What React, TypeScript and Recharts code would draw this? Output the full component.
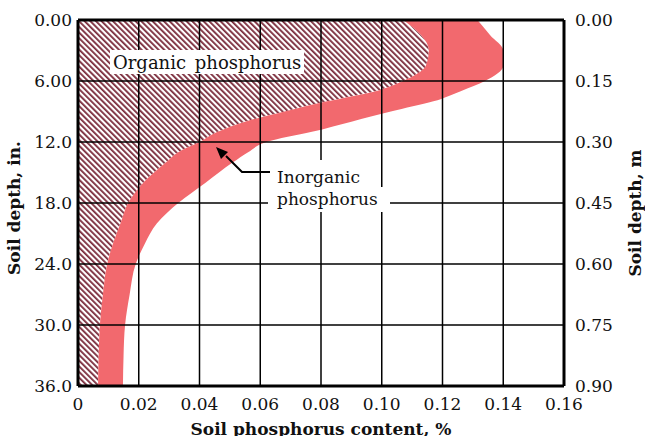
import { ComposedChart, Area, XAxis, YAxis, ReferenceLine } from 'recharts'

// depth in inches
const depthIn = [0, 1.5, 3, 4.5, 6, 7, 8, 9, 10, 11, 12, 13, 14, 16, 18, 20, 22, 24, 27, 30, 33, 36]
// left edge of the red band (= limit of organic P)
const bandLeft = [0.107, 0.113, 0.1155, 0.1145, 0.107, 0.098, 0.082, 0.068, 0.055, 0.046, 0.04, 0.033, 0.029, 0.0215, 0.0165, 0.014, 0.0115, 0.0096, 0.0082, 0.0072, 0.0068, 0.0066]
// right edge of the red band (total P)
const bandRight = [0.1315, 0.1357, 0.14, 0.14, 0.134, 0.126, 0.117, 0.103, 0.09, 0.077, 0.062, 0.056, 0.051, 0.042, 0.033, 0.026, 0.022, 0.019, 0.017, 0.0155, 0.015, 0.0148]

const xTicks = [0, 0.02, 0.04, 0.06, 0.08, 0.1, 0.12, 0.14, 0.16]
const xTickLabels = ['0', '0.02', '0.04', '0.06', '0.08', '0.10', '0.12', '0.14', '0.16']
const depthTicks = [0, 6, 12, 18, 24, 30, 36]
const depthTickLabels = ['0.00', '6.00', '12.0', '18.0', '24.0', '30.0', '36.0']
// metric labels sit on the same gridlines as the inch ticks
const meterTickLabels = ['0.00', '0.15', '0.30', '0.45', '0.60', '0.75', '0.90']

const rows = depthIn.map((d, i) => ({ depth: d, org: bandLeft[i], lo: bandLeft[i], hi: bandRight[i] }))

const SERIF = "'DejaVu Serif', serif"
const tickStyle = { fontFamily: SERIF, fontSize: 17, fill: '#111' }
const titleStyle = { fontFamily: SERIF, fontSize: 17, fontWeight: 700, fill: '#111', textAnchor: 'middle' as const }
const RED = '#f2696e'

export default function App() {
  return (
    <div style={{ position: 'absolute', left: 0, top: 0, width: 645, height: 436, background: '#fff' }}>
      <ComposedChart layout="vertical" width={645} height={436} data={rows}
        margin={{ top: 20, right: 0, bottom: 0, left: 0 }}>
        <defs>
          <pattern id="hatch" patternUnits="userSpaceOnUse" width="4" height="4" patternTransform="rotate(-45)">
            <rect width="4" height="4" fill="#fff" />
            <rect width="1.8" height="4" fill="#7a2a3a" />
          </pattern>
        </defs>
        <XAxis type="number" domain={[0, 0.16]} ticks={xTicks} height={50}
          tickFormatter={(v, i) => xTickLabels[i]} tickLine={false} tickSize={6} tickMargin={6}
          axisLine={{ stroke: '#000', strokeWidth: 3 }} tick={tickStyle} interval={0}
          label={{ value: 'Soil phosphorus content, %', position: 'insideBottom', offset: 1, style: titleStyle }} />
        <YAxis yAxisId="in" type="number" dataKey="depth" domain={[0, 36]} ticks={depthTicks}
          width={78} tickFormatter={(v, i) => depthTickLabels[i]} tickLine={false} tickSize={6} tickMargin={0}
          axisLine={{ stroke: '#000', strokeWidth: 3 }} tick={tickStyle} interval={0}
          label={{ value: 'Soil depth, in.', angle: -90, position: 'insideLeft', offset: 14, dy: 5, style: titleStyle }} />
        <YAxis yAxisId="m" type="number" dataKey="depth" orientation="right" domain={[0, 36]} ticks={depthTicks}
          width={81} tickFormatter={(v, i) => meterTickLabels[i]} tickLine={false} tickSize={6} tickMargin={5}
          axisLine={{ stroke: '#000', strokeWidth: 3 }} tick={tickStyle} interval={0}
          label={{ value: 'Soil depth, m', angle: -90, position: 'insideRight', offset: 10, dy: 10, style: titleStyle }} />
        <Area yAxisId="in" type="monotone" dataKey="org" baseValue={0} fill="url(#hatch)" fillOpacity={1}
          stroke="none" dot={false} activeDot={false} isAnimationActive={false} />
        <Area yAxisId="in" type="monotone" dataKey={(r: any) => [r.lo, r.hi]} fill={RED} fillOpacity={1}
          stroke="none" dot={false} activeDot={false} isAnimationActive={false} />
        {xTicks.slice(1, -1).map((v) => (
          <ReferenceLine key={'x' + v} yAxisId="in" x={v} stroke="#000" strokeWidth={1.5} />
        ))}
        {depthTicks.slice(1, -1).map((d) => (
          <ReferenceLine key={'y' + d} yAxisId="in" y={d} stroke="#000" strokeWidth={1.5} />
        ))}
        <ReferenceLine yAxisId="in" y={0} stroke="#000" strokeWidth={3} />
      </ComposedChart>
      <svg width={645} height={436} style={{ position: 'absolute', left: 0, top: 0, pointerEvents: 'none' }}>
        <rect x={110} y={50} width={194} height={24} fill="#fff" />
        <text x={113} y={69} fontFamily={SERIF} fontSize={18} fill="#111" wordSpacing={3}>Organic phosphorus</text>
        <rect x={268} y={160} width={100} height={27} fill="#fff" />
        <rect x={268} y={187} width={122} height={25} fill="#fff" />
        <text x={277} y={183} fontFamily={SERIF} fontSize={17} fill="#111">Inorganic</text>
        <text x={277} y={205} fontFamily={SERIF} fontSize={17} fill="#111">phosphorus</text>
        <polyline points="270,172 242,172 226,156" fill="none" stroke="#000" strokeWidth={2} />
        <polygon points="216,147 228,152 221,159" fill="#000" />
      </svg>
    </div>
  )
}
